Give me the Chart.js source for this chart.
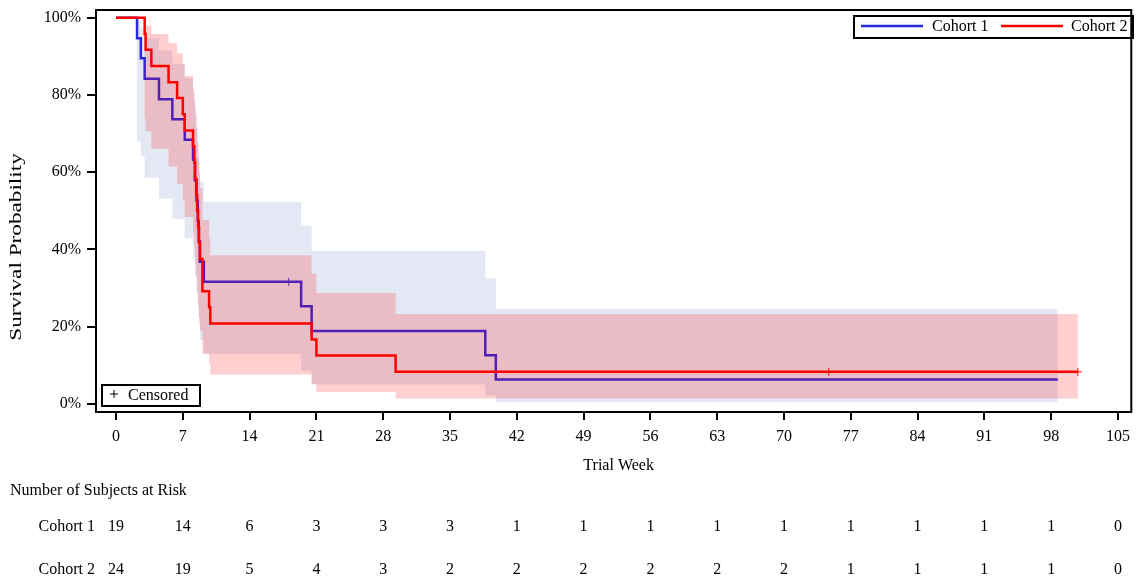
<!DOCTYPE html>
<html>
<head>
<meta charset="utf-8">
<script src="https://cdn.jsdelivr.net/npm/chart.js@4.4.0/dist/chart.umd.min.js"></script>
<style>
body { margin: 0; background: #fff; }
canvas { display: block; }
</style>
</head>
<body>
<canvas id="km" width="1137" height="583"></canvas>
<script>
// x axis ticks (weeks) and y axis ticks (%)
const weekTicks = [0, 7, 14, 21, 28, 35, 42, 49, 56, 63, 70, 77, 84, 91, 98, 105];
const probTicks = [0, 20, 40, 60, 80, 100];

// Cohort 1: step times, survival, confidence band
const c1Weeks = [0, 2.2, 2.6, 3.0, 4.5, 5.9, 7.2, 8.07, 8.25, 8.43, 8.57, 8.67, 8.78, 9.2, 19.4, 20.5, 38.7, 39.8, 98.7];
const c1Surv  = [100, 94.7, 89.5, 84.2, 78.9, 73.7, 68.4, 63.2, 57.9, 52.6, 47.4, 42.1, 36.8, 31.6, 25.3, 18.9, 12.6, 6.3, 6.3];
const c1Lower = [100, 68.1, 64.1, 58.6, 53.2, 47.9, 42.8, 37.9, 33.2, 28.7, 24.4, 20.4, 16.5, 12.9, 8.6, 5.0, 2.2, 0.4, 0.4];
const c1Upper = [100, 99.2, 97.3, 94.6, 91.5, 88.1, 84.4, 80.4, 76.3, 71.9, 67.3, 62.5, 57.5, 52.3, 46.2, 39.6, 32.5, 24.6, 24.6];
const c1CensWeeks = [18.1];
const c1CensSurv  = [31.6];

// Cohort 2
const c2Weeks = [0, 3.0, 3.1, 3.7, 5.5, 6.4, 7.0, 7.2, 8.07, 8.2, 8.3, 8.4, 8.5, 8.6, 8.7, 8.8, 9.05, 9.75, 9.88, 20.5, 21.0, 29.3, 100.8];
const c2Surv  = [100, 95.8, 91.7, 87.5, 83.3, 79.2, 75.0, 70.8, 66.7, 62.5, 58.3, 54.2, 50.0, 45.8, 41.7, 37.5, 29.2, 25.0, 20.8, 16.7, 12.5, 8.3, 8.3];
const c2Lower = [100, 73.9, 70.6, 66.1, 61.5, 57.0, 52.6, 48.4, 44.3, 40.3, 36.4, 32.7, 29.1, 25.6, 22.2, 19.0, 13.0, 10.2, 7.6, 5.2, 3.1, 1.4, 1.4];
const c2Upper = [100, 99.4, 97.9, 95.8, 93.4, 90.8, 87.9, 84.9, 81.7, 78.4, 75.0, 71.4, 67.8, 64.0, 60.1, 56.0, 47.6, 43.1, 38.5, 33.7, 28.7, 23.3, 23.3];
const c2CensWeeks = [74.7, 100.8];
const c2CensSurv  = [8.3, 8.3];

// number at risk, one value per week tick
const cohortNames = ['Cohort 1', 'Cohort 2'];
const riskCohort1 = [19, 14, 6, 3, 3, 3, 1, 1, 1, 1, 1, 1, 1, 1, 1, 0];
const riskCohort2 = [24, 19, 5, 4, 3, 2, 2, 2, 2, 2, 2, 1, 1, 1, 1, 0];

const BLUE = 'rgb(40,40,225)';
const RED = 'rgb(255,0,0)';
const SERIF = '"Liberation Serif", "Times New Roman", serif';

const pts = (xs, ys) => xs.map((x, i) => ({ x: x, y: ys[i] }));

const bandLine = (data, fill, color, order) => ({
    data: data, stepped: true, borderColor: 'transparent', borderWidth: 0,
    pointRadius: 0, fill: fill, backgroundColor: color, order: order
});

const extras = {
    id: 'extras',
    afterDraw(chart) {
        const ctx = chart.ctx;
        const a = chart.chartArea;
        const xs = chart.scales.x;
        ctx.save();
        ctx.strokeStyle = '#000';
        ctx.lineWidth = 2;
        ctx.strokeRect(a.left, a.top, a.right - a.left, a.bottom - a.top);

        ctx.fillStyle = '#000';
        ctx.font = '16px ' + SERIF;
        ctx.textBaseline = 'middle';

        // legend
        ctx.strokeRect(854, 16, 279, 22);
        ctx.lineWidth = 2.5;
        ctx.strokeStyle = BLUE;
        ctx.beginPath(); ctx.moveTo(861, 26); ctx.lineTo(923, 26); ctx.stroke();
        ctx.strokeStyle = RED;
        ctx.beginPath(); ctx.moveTo(1001, 26); ctx.lineTo(1063, 26); ctx.stroke();
        ctx.textAlign = 'left';
        ctx.fillText(cohortNames[0], 932, 27);
        ctx.fillText(cohortNames[1], 1071, 27);

        // censored key
        ctx.strokeStyle = '#000';
        ctx.lineWidth = 2;
        ctx.strokeRect(102, 385, 98, 21);
        ctx.lineWidth = 1;
        ctx.beginPath();
        ctx.moveTo(110, 394); ctx.lineTo(118, 394);
        ctx.moveTo(114, 390); ctx.lineTo(114, 398);
        ctx.stroke();
        ctx.fillText('Censored', 128, 396);

        // axis titles
        ctx.textAlign = 'center';
        ctx.fillText('Trial Week', (a.left + a.right) / 2 + 5, 466);
        ctx.save();
        ctx.translate(17, 247);
        ctx.rotate(-Math.PI / 2);
        ctx.scale(1.45, 1);
        ctx.fillText('Survival Probability', 0, 0);
        ctx.restore();

        // risk table
        ctx.textAlign = 'left';
        ctx.fillText('Number of Subjects at Risk', 10, 491);
        const rows = [riskCohort1, riskCohort2];
        const rowY = [527, 570];
        rows.forEach((row, r) => {
            ctx.textAlign = 'right';
            ctx.fillText(cohortNames[r], 95, rowY[r]);
            ctx.textAlign = 'center';
            row.forEach((n, i) => ctx.fillText(String(n), xs.getPixelForValue(weekTicks[i]), rowY[r]));
        });
        ctx.restore();
    }
};

new Chart(document.getElementById('km'), {
    type: 'line',
    data: {
        datasets: [
            bandLine(pts(c1Weeks, c1Lower), false, 'transparent', 6),
            bandLine(pts(c1Weeks, c1Upper), '-1', 'rgb(228,232,244)', 6),
            { data: pts(c1Weeks, c1Surv), stepped: true, borderColor: BLUE, borderWidth: 2.5, pointRadius: 0, fill: false, order: 5 },
            bandLine(pts(c2Weeks, c2Lower), false, 'transparent', 4),
            bandLine(pts(c2Weeks, c2Upper), '-1', 'rgba(255,0,0,0.19)', 4),
            { data: pts(c2Weeks, c2Surv), stepped: true, borderColor: RED, borderWidth: 2.5, pointRadius: 0, fill: false, order: 3 },
            { data: pts(c1CensWeeks, c1CensSurv), showLine: false, pointStyle: 'cross', pointRadius: 4, borderColor: 'rgb(90,40,180)', borderWidth: 1, order: 1 },
            { data: pts(c2CensWeeks, c2CensSurv), showLine: false, pointStyle: 'cross', pointRadius: 4, borderColor: RED, borderWidth: 1, order: 1 }
        ]
    },
    options: {
        responsive: false,
        animation: false,
        layout: { padding: { top: 10, right: 3, left: 0, bottom: 0 } },
        plugins: { legend: { display: false }, tooltip: { enabled: false } },
        scales: {
            x: {
                type: 'linear', min: -2.1, max: 106.4,
                afterBuildTicks: s => { s.ticks = weekTicks.map(v => ({ value: v })); },
                afterFit: s => { s.height = 171; },
                ticks: { color: '#000', font: { family: SERIF, size: 16 }, padding: 7, maxRotation: 0, autoSkip: false },
                grid: { drawOnChartArea: false, tickLength: 8, color: '#000', lineWidth: 2 },
                border: { display: true, color: '#000', width: 2 }
            },
            y: {
                min: -2.1, max: 102,
                afterBuildTicks: s => { s.ticks = probTicks.map(v => ({ value: v })); },
                afterFit: s => { s.width = 96; s.paddingTop = 0; s.paddingBottom = 0; },
                ticks: { color: '#000', font: { family: SERIF, size: 16 }, padding: 6, callback: v => v + '%' },
                grid: { drawOnChartArea: false, tickLength: 9, color: '#000', lineWidth: 2 },
                border: { display: true, color: '#000', width: 2 }
            }
        }
    },
    plugins: [extras]
});
</script>
</body>
</html>
